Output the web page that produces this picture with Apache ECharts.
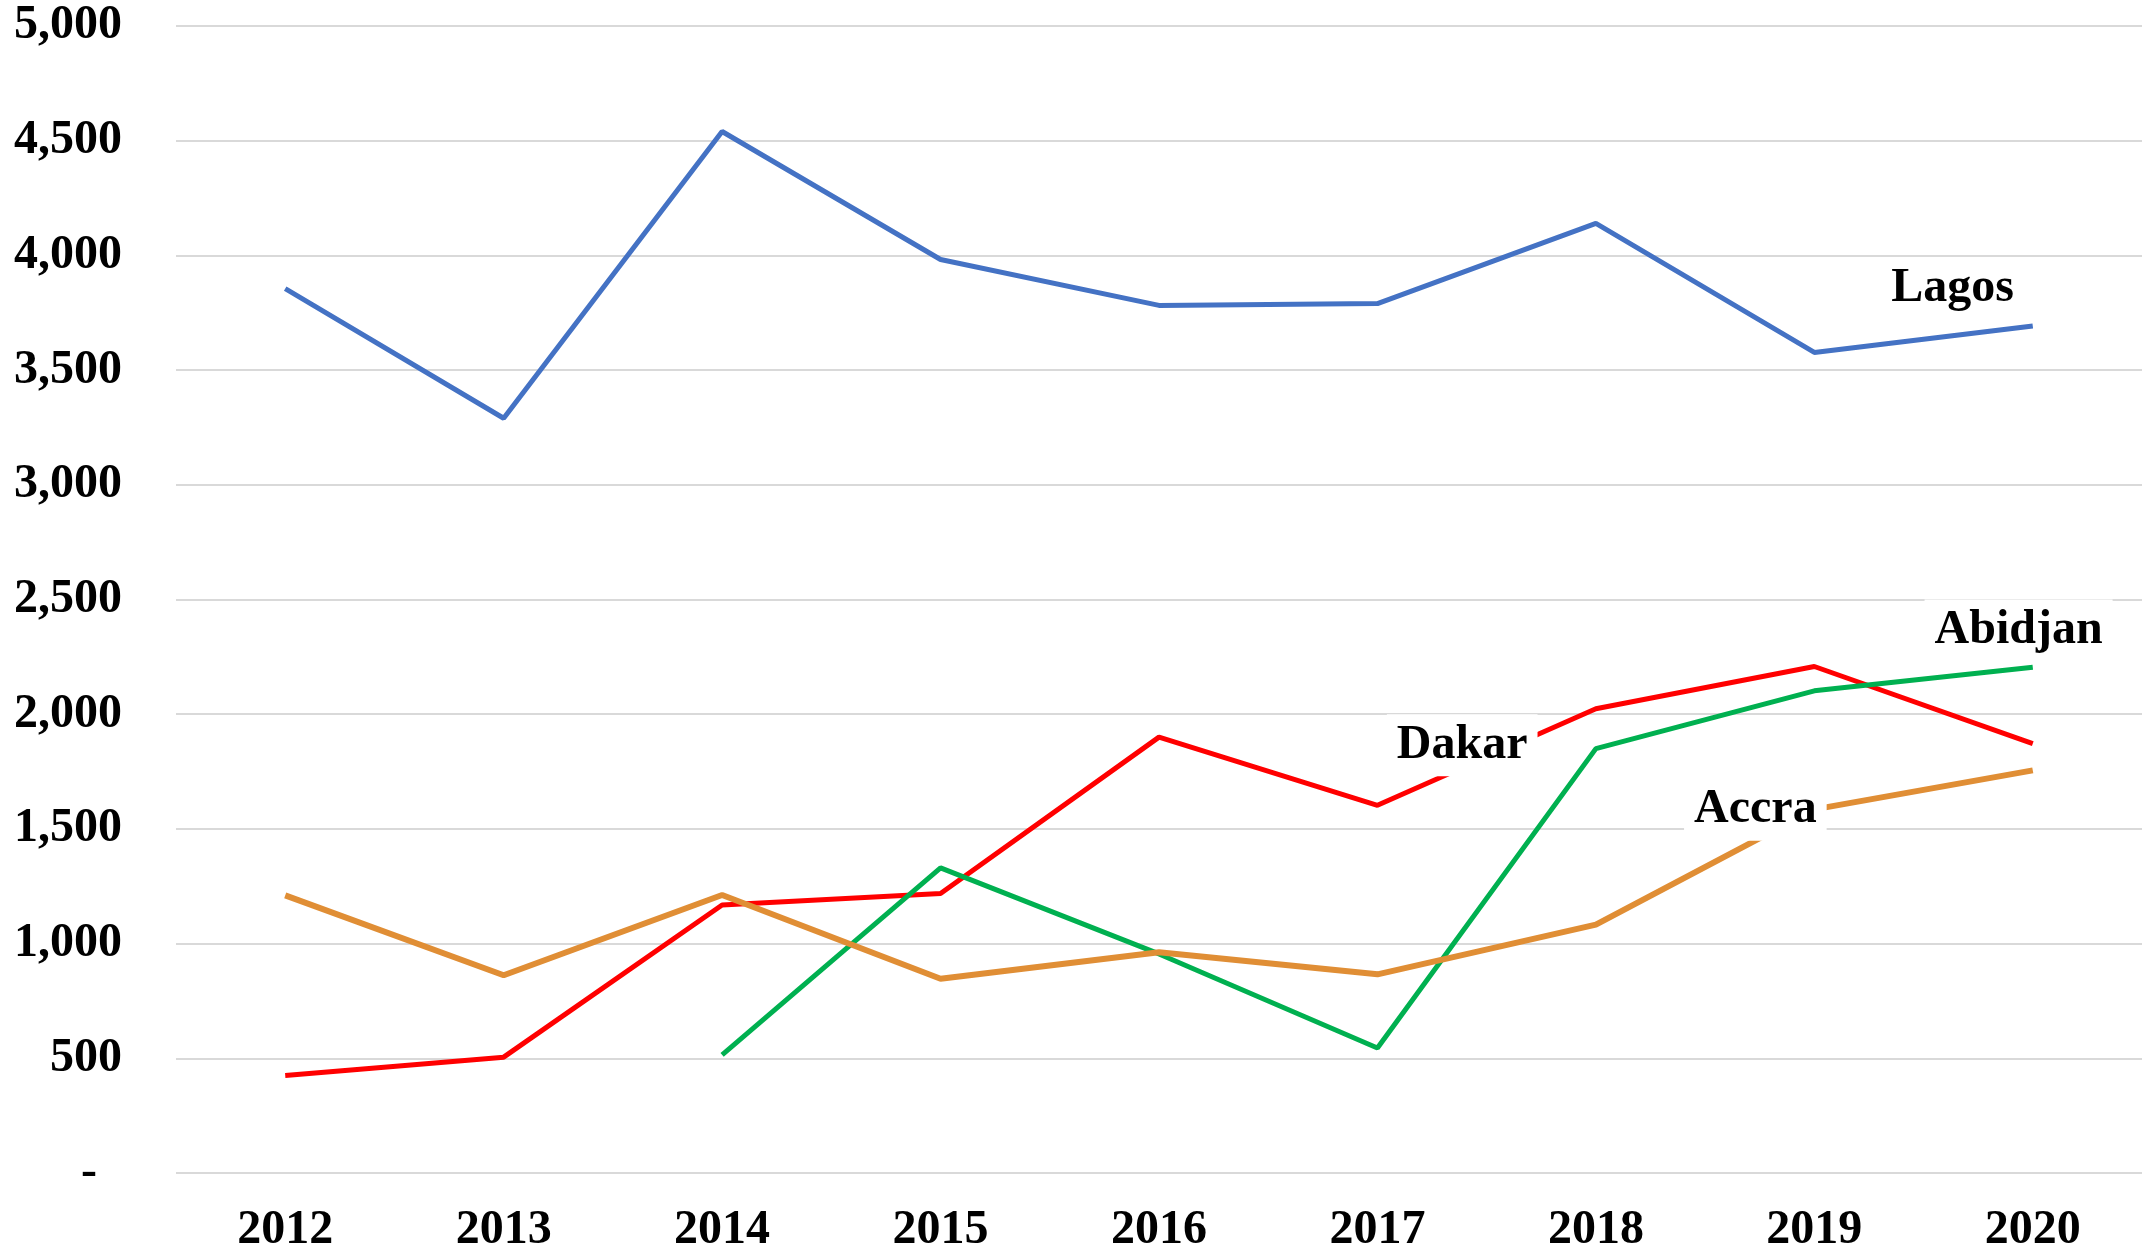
<!DOCTYPE html>
<html>
<head>
<meta charset="utf-8">
<script src="https://cdn.jsdelivr.net/npm/echarts@6/dist/echarts.min.js"></script>
<style>
html,body{margin:0;padding:0;background:#fff;overflow:hidden;}
#chart{width:2152px;height:1255px;}
</style>
</head>
<body>
<div id="chart"></div>
<script>
// ---- data ----
var years = ['2012','2013','2014','2015','2016','2017','2018','2019','2020'];
var lagos   = [3855, 3290, 4540, 3982, 3782, 3790, 4140, 3577, 3692];
var dakar   = [425, 505, 1168, 1218, 1900, 1603, 2024, 2208, 1872];
var abidjan = [null, null, 515, 1330, 955, 545, 1850, 2102, 2205];
var accra   = [1210, 862, 1212, 847, 962, 866, 1083, 1585, 1755];
var yTicks  = [0, 500, 1000, 1500, 2000, 2500, 3000, 3500, 4000, 4500, 5000];
var labelNames = ['Lagos', 'Abidjan', 'Dakar', 'Accra'];
var labelX = [7.633, 7.935, 5.388, 6.73];
var labelY = [3857, 2365, 1865, 1583];

var FONT = '"Liberation Serif","Times New Roman",serif';
var chart = echarts.init(document.getElementById('chart'));

var labelData = labelNames.map(function(n, i){ return {name: n, value: [labelX[i], labelY[i]]}; });

var option = {
  backgroundColor: '#ffffff',
  animation: false,
  grid: {left: 176, right: 10, top: 26, bottom: 79, containLabel: false},
  xAxis: [{
    type: 'category',
    data: years,
    boundaryGap: true,
    axisLine: {show: false},
    axisTick: {show: false},
    axisLabel: {fontFamily: FONT, fontWeight: 'bold', fontSize: 48, color: '#000', margin: 34}
  }, {
    type: 'value', min: -0.5, max: 8.5, show: false
  }],
  yAxis: {
    type: 'value',
    min: yTicks[0], max: yTicks[yTicks.length - 1], interval: 500,
    axisLine: {show: false},
    axisTick: {show: false},
    splitLine: {lineStyle: {color: '#d9d9d9', width: 2}},
    axisLabel: {
      fontFamily: FONT, fontWeight: 'bold', fontSize: 48, color: '#000', margin: 54,
      formatter: function(v){ return v === 0 ? '{dash|-}' : v.toLocaleString('en-US'); },
      rich: {
        dash: {fontFamily: FONT, fontWeight: 'bold', fontSize: 48, color: '#000', padding: [0, 25, 0, 0]}
      }
    }
  },
  series: [
    {name: 'Lagos', type: 'line', data: lagos, symbol: 'none', lineStyle: {color: '#4472C4', width: 5}, itemStyle: {color: '#4472C4'}, z: 2},
    {name: 'Dakar', type: 'line', data: dakar, symbol: 'none', lineStyle: {color: '#FF0000', width: 5}, itemStyle: {color: '#FF0000'}, z: 2},
    {name: 'Abidjan', type: 'line', data: abidjan, symbol: 'none', lineStyle: {color: '#00B050', width: 5}, itemStyle: {color: '#00B050'}, z: 2},
    {name: 'Accra', type: 'line', data: accra, symbol: 'none', lineStyle: {color: '#E08E35', width: 6}, itemStyle: {color: '#E08E35'}, z: 2},
    {
      name: 'labels', type: 'scatter', xAxisIndex: 1, yAxisIndex: 0,
      data: labelData, symbolSize: 0, z: 10, silent: true,
      itemStyle: {opacity: 1, color: '#ffffff'},
      label: {
        show: true, position: 'inside', formatter: '{b}',
        fontFamily: FONT, fontWeight: 'bold', fontSize: 48, color: '#000000',
        textBorderWidth: 0, opacity: 1,
        backgroundColor: '#ffffff', padding: [7, 10], lineHeight: 48
      }
    }
  ]
};
chart.setOption(option);
</script>
</body>
</html>
